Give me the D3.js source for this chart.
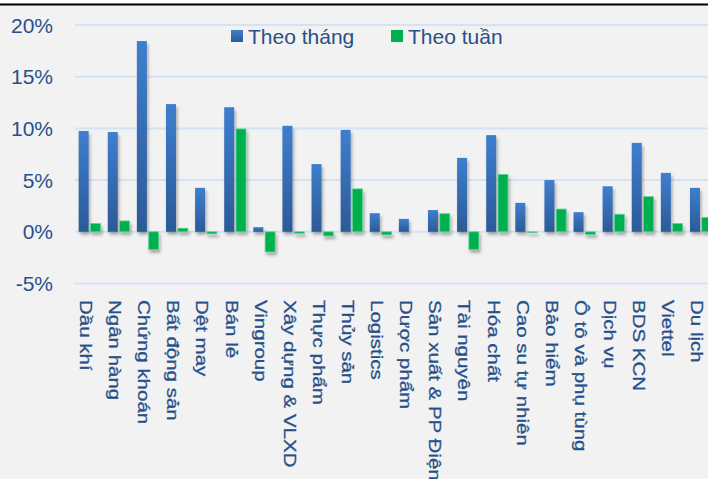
<!DOCTYPE html>
<html>
<head>
<meta charset="utf-8">
<script src="https://cdn.jsdelivr.net/npm/d3@7"></script>
<style>
  html, body { margin: 0; padding: 0; background: #fff; }
  #chart { width: 708px; height: 479px; overflow: hidden; }
</style>
</head>
<body>
<div id="chart"></div>
<script>
// sectors (x axis)
const categories = ["Dầu khí", "Ngân hàng", "Chứng khoán", "Bất động sản", "Dệt may", "Bán lẻ",
  "Vingroup", "Xây dựng & VLXD", "Thực phẩm", "Thủy sản", "Logistics", "Dược phẩm",
  "Sản xuất & PP Điện", "Tài nguyên", "Hóa chất", "Cao su tự nhiên", "Bảo hiểm",
  "Ô tô và phụ tùng", "Dịch vụ", "BDS KCN", "Viettel", "Du lịch"];

// % change by month / by week
const theoThang = [9.75, 9.65, 18.45, 12.35, 4.25, 12.05, 0.45, 10.25, 6.55, 9.85, 1.8, 1.25,
  2.1, 7.15, 9.35, 2.8, 5.0, 1.9, 4.4, 8.6, 5.7, 4.25];
const theoTuan = [0.8, 1.05, -1.7, 0.35, -0.2, 9.95, -1.95, -0.15, -0.4, 4.15, -0.3, 0,
  1.75, -1.7, 5.55, -0.1, 2.2, -0.25, 1.7, 3.4, 0.8, 1.4];

const yTicks = [-5, 0, 5, 10, 15, 20];
const seriesNames = ["Theo tháng", "Theo tuần"];

const width = 708, height = 479;
const textColor = "#27508a";

const svg = d3.select("#chart").append("svg")
    .attr("width", width)
    .attr("height", height);

const defs = svg.append("defs");

// blue bar gradient, lighter at the top
const grad = defs.append("linearGradient")
    .attr("id", "blueGrad")
    .attr("x1", 0).attr("y1", 0).attr("x2", 0).attr("y2", 1);
grad.append("stop").attr("offset", "0%").attr("stop-color", "#3e7ece");
grad.append("stop").attr("offset", "100%").attr("stop-color", "#2c5a97");

const shadow = defs.append("filter")
    .attr("id", "shadow")
    .attr("x", "-50%").attr("y", "-50%").attr("width", "200%").attr("height", "200%");
shadow.append("feDropShadow")
    .attr("dx", 1.5).attr("dy", 3)
    .attr("stdDeviation", 1.5)
    .attr("flood-color", "#000")
    .attr("flood-opacity", 0.3);

// background + top rule
svg.append("rect").attr("width", width).attr("height", height).attr("fill", "#f2f2f2");
svg.append("rect").attr("width", width).attr("height", 3.5).attr("fill", "#fff");
svg.append("rect").attr("y", 3.5).attr("width", width).attr("height", 2).attr("fill", "#000");

const step = 29.11;
const x = d3.scaleBand()
    .domain(categories)
    .range([75, 75 + categories.length * step])
    .paddingInner(0).paddingOuter(0);

const xSub = d3.scaleBand()
    .domain(seriesNames)
    .range([0, x.bandwidth()])
    .paddingInner(0.153)
    .paddingOuter(0.31);

const y = d3.scaleLinear()
    .domain([-5, 20])
    .range([283.5, 25]);

// gridlines
svg.append("g")
    .selectAll("line")
    .data(yTicks)
    .join("line")
    .attr("x1", 75)
    .attr("x2", width)
    .attr("y1", d => y(d))
    .attr("y2", d => y(d))
    .attr("stroke", "#d3e2f4")
    .attr("stroke-width", 2);

// y axis labels
svg.append("g")
    .selectAll("text")
    .data(yTicks)
    .join("text")
    .attr("x", 53)
    .attr("y", d => y(d))
    .attr("dy", "0.36em")
    .attr("text-anchor", "end")
    .style("font-family", "'Liberation Sans', Arial, sans-serif")
    .style("font-size", "21px")
    .attr("fill", textColor)
    .text(d => d + "%");

// bars
const barData = categories.map((c, i) => [
    { cat: c, key: seriesNames[0], value: theoThang[i] },
    { cat: c, key: seriesNames[1], value: theoTuan[i] }
]).flat();

svg.append("g")
    .attr("filter", "url(#shadow)")
    .selectAll("rect")
    .data(barData.filter(d => d.value !== 0))
    .join("rect")
    .attr("x", d => x(d.cat) + xSub(d.key))
    .attr("width", xSub.bandwidth())
    .attr("y", d => y(Math.max(0, d.value)))
    .attr("height", d => Math.abs(y(d.value) - y(0)))
    .attr("fill", d => d.key === seriesNames[0] ? "url(#blueGrad)" : "#00b050")
    .attr("stroke", d => d.key === seriesNames[0] ? "none" : "#63d196")
    .attr("stroke-width", 0.8);

// category labels, rotated to read top to bottom
svg.append("g")
    .selectAll("text")
    .data(categories)
    .join("text")
    .attr("transform", d => `translate(${x(d) + x.bandwidth() / 2 - 9.5}, 300) rotate(90) scale(1, 0.77)`)
    .attr("text-anchor", "start")
    .style("font-family", "'Liberation Sans', Arial, sans-serif")
    .style("font-size", "20.5px")
    .attr("fill", textColor)
    .attr("stroke", textColor)
    .attr("stroke-width", 0.35)
    .text(d => d);

// legend
const legend = svg.append("g")
    .selectAll("g")
    .data(seriesNames)
    .join("g")
    .attr("transform", (d, i) => `translate(${i === 0 ? 231 : 391}, 30)`);

legend.append("rect")
    .attr("width", 12)
    .attr("height", 12)
    .attr("fill", (d, i) => i === 0 ? "url(#blueGrad)" : "#00b050");

legend.append("text")
    .attr("x", 17)
    .attr("y", 13.5)
    .style("font-family", "'Liberation Sans', Arial, sans-serif")
    .style("font-size", "21px")
    .attr("fill", textColor)
    .text(d => d);
</script>
</body>
</html>
